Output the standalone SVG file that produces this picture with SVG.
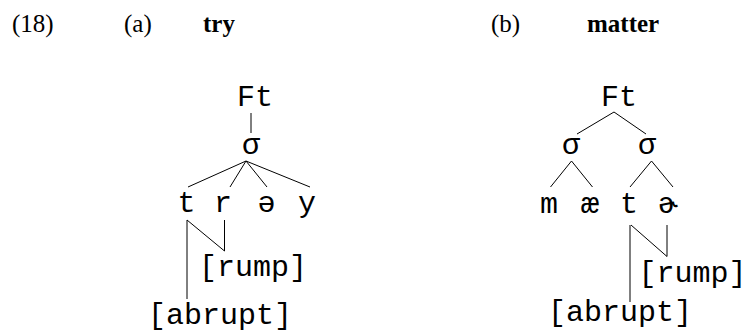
<svg xmlns="http://www.w3.org/2000/svg" width="748" height="336" viewBox="0 0 748 336">
<style>
.hd{font-family:"Liberation Serif","Times New Roman",serif;font-size:25px;fill:#000}
.b{font-weight:bold}
.m{font-family:"Liberation Mono","DejaVu Sans Mono",monospace;font-size:30px;fill:#000;text-anchor:middle}
.c line,.c polyline{stroke:#000;stroke-width:1;fill:none}
</style>
<rect width="748" height="336" fill="#fff"/>
<g id="header">
<text class="hd" x="12" y="32">(18)</text>
<text class="hd" x="124" y="32">(a)</text>
<text class="hd b" x="203" y="32">try</text>
<text class="hd" x="491" y="32">(b)</text>
<text class="hd b" x="587" y="32">matter</text>
</g>
<g id="a-Ft"><text class="m" x="255" y="106">Ft</text></g>
<g id="a-syl"><text class="m" x="251" y="154">σ</text></g>
<g id="a-t"><text class="m" x="186.5" y="212">t</text></g>
<g id="a-r"><text class="m" x="223" y="212">r</text></g>
<g id="a-schwa"><text class="m" x="266.5" y="212">ə</text></g>
<g id="a-y"><text class="m" x="307" y="212">y</text></g>
<g id="a-rump"><text class="m" x="253" y="276">[rump]</text></g>
<g id="a-abrupt"><text class="m" x="220" y="324">[abrupt]</text></g>
<g id="b-Ft"><text class="m" x="619" y="106">Ft</text></g>
<g id="b-syl1"><text class="m" x="571" y="154">σ</text></g>
<g id="b-syl2"><text class="m" x="647" y="154">σ</text></g>
<g id="b-m"><text class="m" x="549" y="213">m</text></g>
<g id="b-ae"><text class="m" x="590" y="213">æ</text></g>
<g id="b-t"><text class="m" x="629" y="213">t</text></g>
<g id="b-er"><text class="m" x="668" y="213">ɚ</text></g>
<g id="b-rump"><text class="m" x="692.5" y="282">[rump]</text></g>
<g id="b-abrupt"><text class="m" x="620" y="321">[abrupt]</text></g>
<g id="connectors" class="c">
<line x1="251" y1="113" x2="251" y2="133"/>
<line x1="246" y1="161" x2="188" y2="187"/>
<line x1="246" y1="161" x2="230" y2="187"/>
<line x1="246" y1="161" x2="267" y2="187"/>
<line x1="246" y1="161" x2="310" y2="187"/>
<line x1="187" y1="220" x2="187" y2="299"/>
<polyline points="187,220 224.5,251 224.5,220"/>
<line x1="614" y1="112" x2="577" y2="134"/>
<line x1="614" y1="112" x2="646" y2="134"/>
<line x1="571.5" y1="161" x2="550.5" y2="187"/>
<line x1="571.5" y1="161" x2="592.5" y2="187"/>
<line x1="651.5" y1="161" x2="630" y2="187"/>
<line x1="651.5" y1="161" x2="673" y2="187"/>
<line x1="630" y1="225" x2="630" y2="302"/>
<polyline points="631,225 667,256.5 667,225"/>
</g>
</svg>
